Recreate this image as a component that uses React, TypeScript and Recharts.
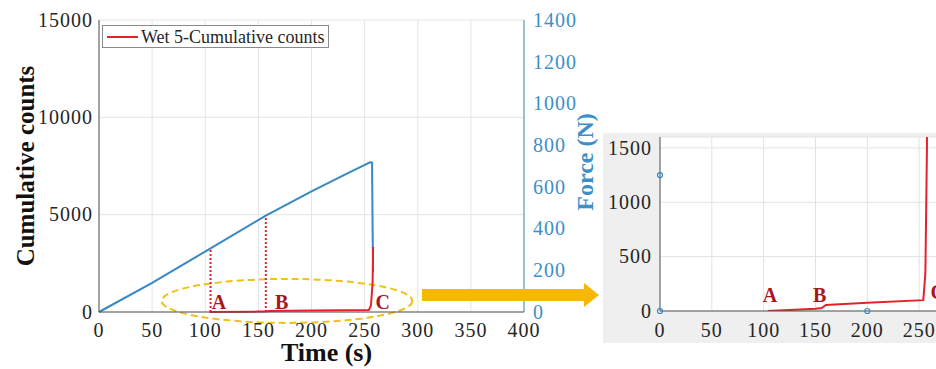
import React from 'react';
import {
  LineChart, ComposedChart, Line, Scatter, XAxis, YAxis, CartesianGrid,
  ReferenceLine, ReferenceDot, ReferenceArea, Legend, Label,
} from 'recharts';

// force curve (right axis, N)
const forceTime = [0, 50, 105, 157, 200, 230, 255, 257, 257.5, 258];
const forceN = [0, 140, 305, 462, 578, 655, 718, 716, 400, 190];

// AE cumulative counts (left axis)
const countTime = [104, 150, 156, 160, 200, 254, 256, 257.5, 258];
const cumCounts = [0, 20, 28, 55, 75, 100, 350, 1500, 3340];

const timeTicks = [0, 50, 100, 150, 200, 250, 300, 350, 400];
const countTicks = [0, 5000, 10000, 15000];
const forceTicks = [0, 200, 400, 600, 800, 1000, 1200, 1400];
const zoomTimeTicks = [0, 50, 100, 150, 200, 250];
const zoomCountTicks = [0, 500, 1000, 1500];

// dotted drop lines at A and B
const markerTime = [105, 157];
const markerForce = [305, 462];

// stage labels
const stageNames = ['A', 'B', 'C'];
const stageTime = [113, 172, 267];
const stageCounts = [500, 500, 500];
const zoomStageTime = [106, 154, 268];
const zoomStageCounts = [147, 147, 175];

// dashed ellipse around the low-count zone
const zoneTime = [59, 295];
const zoneCounts = [-560, 1700];

// stray force markers in the zoomed panel
const zoomMarkTime = [0, 0, 200];
const zoomMarkValue = [0, 1250, 0];

const forceData = forceTime.map((t, i) => ({ t, force: forceN[i] }));
const countData = countTime.map((t, i) => ({ t, counts: cumCounts[i] }));
const zoomMarkData = zoomMarkTime.map((t, i) => ({ t, v: zoomMarkValue[i] }));

const SERIF = '"Liberation Serif", "Times New Roman", serif';
const BLUE = '#3888c4';
const BLUE_TXT = '#3d8fc8';
const RED = '#e8202a';
const DARK_RED = '#a8161e';
const TXT = '#262626';

// tick renderer: serif labels like the MATLAB figure
const serifTick = (fill: string, anchor: 'start' | 'middle' | 'end', horizontal: boolean) => (p: any) => (
  <text x={p.x} y={p.y} textAnchor={anchor} dy={horizontal ? '0.71em' : '0.34em'}
    fontFamily={SERIF} fontSize={20} letterSpacing={1} fill={fill}>{p.payload.value}</text>
);

const stageShape = (name: string, size: number) => (p: any) => (
  <text x={p.cx} y={p.cy} textAnchor="middle" dominantBaseline="central"
    fontFamily={SERIF} fontWeight="bold" fontSize={size} fill={DARK_RED}>{name}</text>
);

const EllipseShape = (p: any) => (
  <ellipse cx={p.x + p.width / 2} cy={p.y + p.height / 2} rx={p.width / 2} ry={p.height / 2}
    fill="none" stroke="#eec21a" strokeWidth={2} strokeDasharray="7 4" />
);

const LegendBox = ({ payload }: any) => (
  <div style={{
    display: 'flex', alignItems: 'center', border: '1px solid #8a8a8a', background: '#fff',
    height: 21, padding: '0 3px 0 4px', fontFamily: SERIF, fontSize: 18, color: TXT,
  }}>
    {(payload || []).filter((p: any) => p.type !== 'none' && p.dataKey === 'counts').map((p: any) => (
      <React.Fragment key={p.value}>
        <span style={{ display: 'inline-block', width: 31, height: 2, background: p.color }} />
        <span style={{ marginLeft: 3, lineHeight: '20px' }}>{p.value}</span>
      </React.Fragment>
    ))}
  </div>
);

export default function App() {
  return (
    <div style={{ position: 'absolute', left: 0, top: 0, width: 936, height: 369, background: '#fff', overflow: 'hidden', fontFamily: SERIF }}>
      <div style={{ position: 'absolute', left: 0, top: 0 }}>
        <LineChart width={620} height={369} margin={{ top: 20, right: 36, bottom: 17, left: 0 }}>
          <CartesianGrid yAxisId="left" stroke="#e4e4e4" />
          <XAxis dataKey="t" type="number" domain={[0, 400]} ticks={timeTicks} interval={0}
            height={40} tickLine={false} tickSize={0} tickMargin={11} tick={serifTick(TXT, 'middle', true)}
            axisLine={{ stroke: '#555' }}>
            <Label content={(p: any) => {
              const vb = p.viewBox || { x: 99, y: 312, width: 425, height: 40 };
              return (
                <text x={vb.x + vb.width / 2 + 15} y={vb.y + vb.height + 9} textAnchor="middle"
                  fontFamily={SERIF} fontWeight="bold" fontSize={26} fill="#111">Time (s)</text>
              );
            }} />
          </XAxis>
          <XAxis xAxisId="top" orientation="top" type="number" domain={[0, 400]} height={0}
            tick={false} tickLine={false} axisLine={{ stroke: '#888' }} />
          <YAxis yAxisId="left" type="number" domain={[0, 15000]} ticks={countTicks} interval={0}
            width={99} tickLine={false} tickSize={0} tickMargin={6} tick={serifTick(TXT, 'end', false)}
            axisLine={{ stroke: '#555' }}>
            <Label content={(p: any) => {
              const vb = p.viewBox || { x: 0, y: 20, width: 99, height: 292 };
              const cx = vb.x + 25;
              const cy = vb.y + vb.height / 2;
              return (
                <text x={cx} y={cy} transform={`rotate(-90, ${cx}, ${cy})`} textAnchor="middle"
                  dominantBaseline="central" fontFamily={SERIF} fontWeight="bold" fontSize={25}
                  fill="#111">Cumulative counts</text>
              );
            }} />
          </YAxis>
          <YAxis yAxisId="right" orientation="right" type="number" domain={[0, 1400]} ticks={forceTicks}
            interval={0} width={60} tickLine={false} tickSize={0} tickMargin={9}
            tick={serifTick(BLUE_TXT, 'start', false)} axisLine={{ stroke: BLUE_TXT }}>
            <Label content={(p: any) => {
              const vb = p.viewBox || { x: 524, y: 20, width: 60, height: 292 };
              const cx = vb.x + 61;
              const cy = vb.y + vb.height / 2 - 4;
              return (
                <text x={cx} y={cy} transform={`rotate(-90, ${cx}, ${cy})`} textAnchor="middle"
                  dominantBaseline="central" fontFamily={SERIF} fontWeight="bold" fontSize={24}
                  fill={BLUE_TXT}>Force (N)</text>
              );
            }} />
          </YAxis>
          <Legend layout="horizontal" verticalAlign="middle" align="center" content={LegendBox}
            wrapperStyle={{ left: 102, top: 25, width: 'auto', height: 'auto' }} />
          <ReferenceArea yAxisId="left" x1={zoneTime[0]} x2={zoneTime[1]} y1={zoneCounts[0]} y2={zoneCounts[1]}
            ifOverflow="visible" shape={EllipseShape} />
          <Line yAxisId="right" data={forceData} dataKey="force" stroke={BLUE} strokeWidth={2}
            dot={false} legendType="none" isAnimationActive={false} />
          <Line yAxisId="left" data={countData} dataKey="counts" name="Wet 5-Cumulative counts"
            stroke={RED} strokeWidth={2} dot={false} isAnimationActive={false} />
          {markerTime.map((t, i) => (
            <ReferenceLine key={t} yAxisId="right" segment={[{ x: t, y: 0 }, { x: t, y: markerForce[i] }]}
              stroke={RED} strokeWidth={2} strokeDasharray="2 2" />
          ))}
          {stageNames.map((n, i) => (
            <ReferenceDot key={n} yAxisId="left" x={stageTime[i]} y={stageCounts[i]} r={0}
              shape={stageShape(n, 20)} />
          ))}
        </LineChart>
      </div>

      <div style={{ position: 'absolute', left: 603, top: 133, width: 333, height: 210, background: '#efefef', overflow: 'hidden' }}>
        <ComposedChart width={368} height={210} margin={{ top: 4, right: 0, bottom: 0, left: 0 }}>
          <CartesianGrid yAxisId="zc" fill="#fff" stroke="#e2e2e2" />
          <XAxis dataKey="t" type="number" domain={[0, 300]} ticks={zoomTimeTicks} interval={0}
            height={32} tickLine={false} tickSize={0} tickMargin={12} tick={serifTick(TXT, 'middle', true)}
            axisLine={{ stroke: '#555' }} />
          <YAxis yAxisId="zc" type="number" domain={[0, 1600]} ticks={zoomCountTicks} interval={0}
            allowDataOverflow width={57} tickLine={false} tickSize={0} tickMargin={8}
            tick={serifTick(TXT, 'end', false)} axisLine={{ stroke: '#555' }} />
          <YAxis yAxisId="zm" dataKey="v" type="number" domain={[0, 1600]} hide />
          <Line yAxisId="zc" data={countData} dataKey="counts" stroke={RED} strokeWidth={2}
            dot={false} isAnimationActive={false} />
          <Scatter yAxisId="zm" data={zoomMarkData} dataKey="v" fill="none" stroke={BLUE}
            strokeWidth={1.2} shape={(p: any) => <circle cx={p.cx} cy={p.cy} r={2.5} fill="none" stroke={BLUE} strokeWidth={1.2} />}
            isAnimationActive={false} />
          {stageNames.map((n, i) => (
            <ReferenceDot key={n} yAxisId="zc" x={zoomStageTime[i]} y={zoomStageCounts[i]} r={0}
              shape={stageShape(n, 20)} />
          ))}
        </ComposedChart>
      </div>

      <svg width={936} height={369} style={{ position: 'absolute', left: 0, top: 0, pointerEvents: 'none' }}>
        <rect x={422} y={289} width={163} height={12} fill="#f6b800" />
        <polygon points="584,283 599,295 584,307" fill="#f6b800" />
      </svg>
    </div>
  );
}
